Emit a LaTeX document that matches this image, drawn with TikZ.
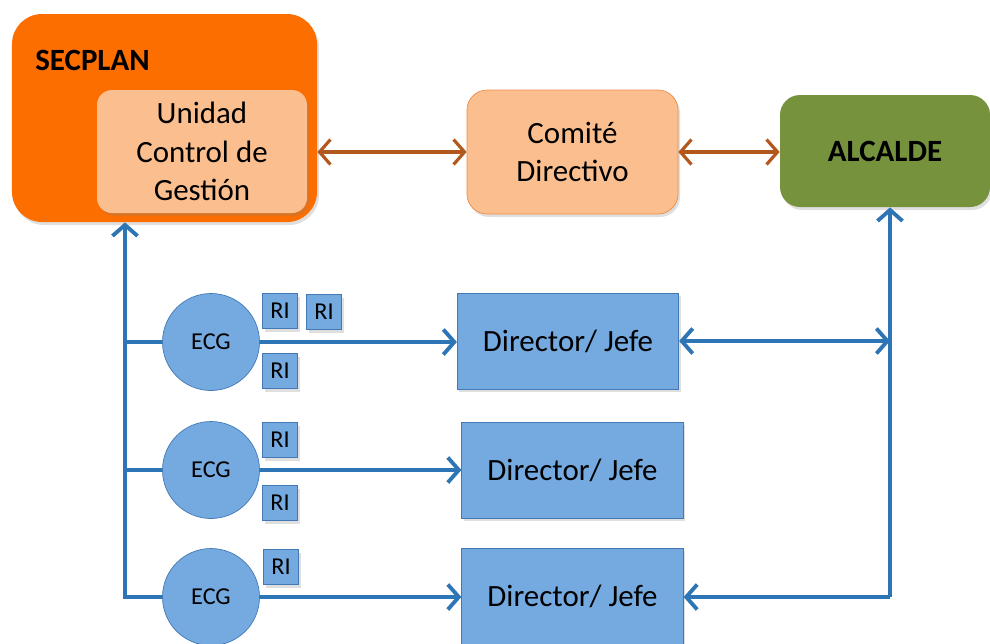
\documentclass[tikz,border=0pt]{standalone}
\usepackage{fontspec}
\setmainfont{Carlito}
\usetikzlibrary{positioning}
\usetikzlibrary{arrows.meta, shadows}

\definecolor{secorange}{RGB}{252,110,0}
\definecolor{lightorange}{RGB}{251,191,143}
\definecolor{orangeline}{RGB}{236,140,70}
\definecolor{alcgreen}{RGB}{118,146,60}
\definecolor{boxblue}{RGB}{117,170,225}
\definecolor{blueline}{RGB}{66,120,180}
\definecolor{arrowblue}{RGB}{46,117,182}
\definecolor{arrowbrown}{RGB}{178,88,28}

\tikzset{
  bigtext/.style={font=\fontsize{17.6}{22}\selectfont},
  smalltext/.style={font=\fontsize{13.8}{16}\selectfont},
  softshadow/.style={drop shadow={opacity=0.25,shadow xshift=0.04cm,shadow yshift=-0.06cm}},
  dirbox/.style={rectangle,draw=blueline,fill=boxblue,minimum width=4.43cm,minimum height=1.92cm,bigtext,softshadow},
  ecgnode/.style={circle,draw=blueline,fill=boxblue,minimum size=1.94cm,inner sep=0pt,smalltext},
  ribox/.style={rectangle,draw=blueline,fill=boxblue,minimum size=0.7cm,inner sep=0pt,smalltext,softshadow},
  bluearrow/.style={draw=arrowblue,line width=2.2pt,arrows={-Straight Barb[length=2.2mm,width=5mm]}},
  bluetwo/.style={draw=arrowblue,line width=2.2pt,arrows={Straight Barb[length=2.2mm,width=5mm]-Straight Barb[length=2.2mm,width=5mm]}},
  brownarrow/.style={draw=arrowbrown,line width=1.8pt,arrows={Straight Barb[length=2.2mm,width=5mm]-Straight Barb[length=2.2mm,width=5mm]}},
}

\begin{document}
\begin{tikzpicture}
\useasboundingbox (0,0) rectangle (19.8,-12.86);

% top row
\node[rectangle,rounded corners=0.6cm,fill=secorange,minimum width=6.1cm,minimum height=4.16cm,softshadow] (secplan) at (3.29,-2.36) {};
\node[anchor=west,inner sep=0pt,bigtext] (seclabel) at (0.70,-1.2) {\bfseries SECPLAN};
\node[rectangle,rounded corners=0.3cm,fill=lightorange,minimum width=4.2cm,minimum height=2.46cm,align=center,bigtext,softshadow] (unidad) at (4.04,-3.03) {Unidad\\Control de\\Gestión};
\node[rectangle,rounded corners=0.4cm,draw=orangeline,fill=lightorange,minimum width=4.22cm,minimum height=2.48cm,align=center,bigtext,softshadow] (comite) at (11.45,-3.04) {Comité\\Directivo};
\node[rectangle,rounded corners=0.4cm,fill=alcgreen,minimum width=4.2cm,minimum height=2.24cm,bigtext,softshadow] (alcalde) at (17.7,-3.02) {\bfseries ALCALDE};

\draw[brownarrow] (comite.west -| secplan.east) -- (comite.west);
\draw[brownarrow] (comite.east) -- (comite.east -| alcalde.west);

% ECG and RI
\node[ecgnode] (ecg1) at (4.22,-6.84) {ECG};
\node[ecgnode] (ecg2) at (4.22,-9.40) {ECG};
\node[ecgnode] (ecg3) at (4.22,-11.94) {ECG};

\node[ribox] (ri1a) at (5.60,-6.22) {RI};
\node[ribox] (ri1b) at (6.48,-6.24) {RI};
\node[ribox] (ri1c) at (5.60,-7.42) {RI};
\node[ribox] (ri2a) at (5.60,-8.80) {RI};
\node[ribox] (ri2b) at (5.60,-10.06) {RI};
\node[ribox] (ri3a) at (5.62,-11.34) {RI};

% directors
\node[dirbox] (dir1) at (11.36,-6.82) {Director/ Jefe};
\node[dirbox] (dir2) at (11.45,-9.40) {Director/ Jefe};
\node[dirbox] (dir3) at (11.45,-11.92) {Director/ Jefe};

% left bus
\coordinate (lbus) at (2.5,-11.94);
\draw[bluearrow] (ecg3.west) -- (lbus) -- (lbus |- secplan.south);
\draw[draw=arrowblue,line width=2.2pt] (ecg1.west -| lbus) -- (ecg1.west);
\draw[draw=arrowblue,line width=2.2pt] (ecg2.west -| lbus) -- (ecg2.west);

\draw[bluearrow] (ecg1.east) -- (ecg1.east -| dir1.west);
\draw[bluearrow] (ecg2.east) -- (ecg2.east -| dir2.west);
\draw[bluearrow] (ecg3.east) -- (ecg3.east -| dir3.west);

% right bus
\coordinate (rbus) at (17.8,-11.94);
\draw[bluearrow] (rbus) -- (rbus |- alcalde.south);
\draw[bluetwo] (dir1.east) -- (dir1.east -| rbus);
\draw[bluearrow] (rbus) -- (rbus -| dir3.east);

\end{tikzpicture}
\end{document}
